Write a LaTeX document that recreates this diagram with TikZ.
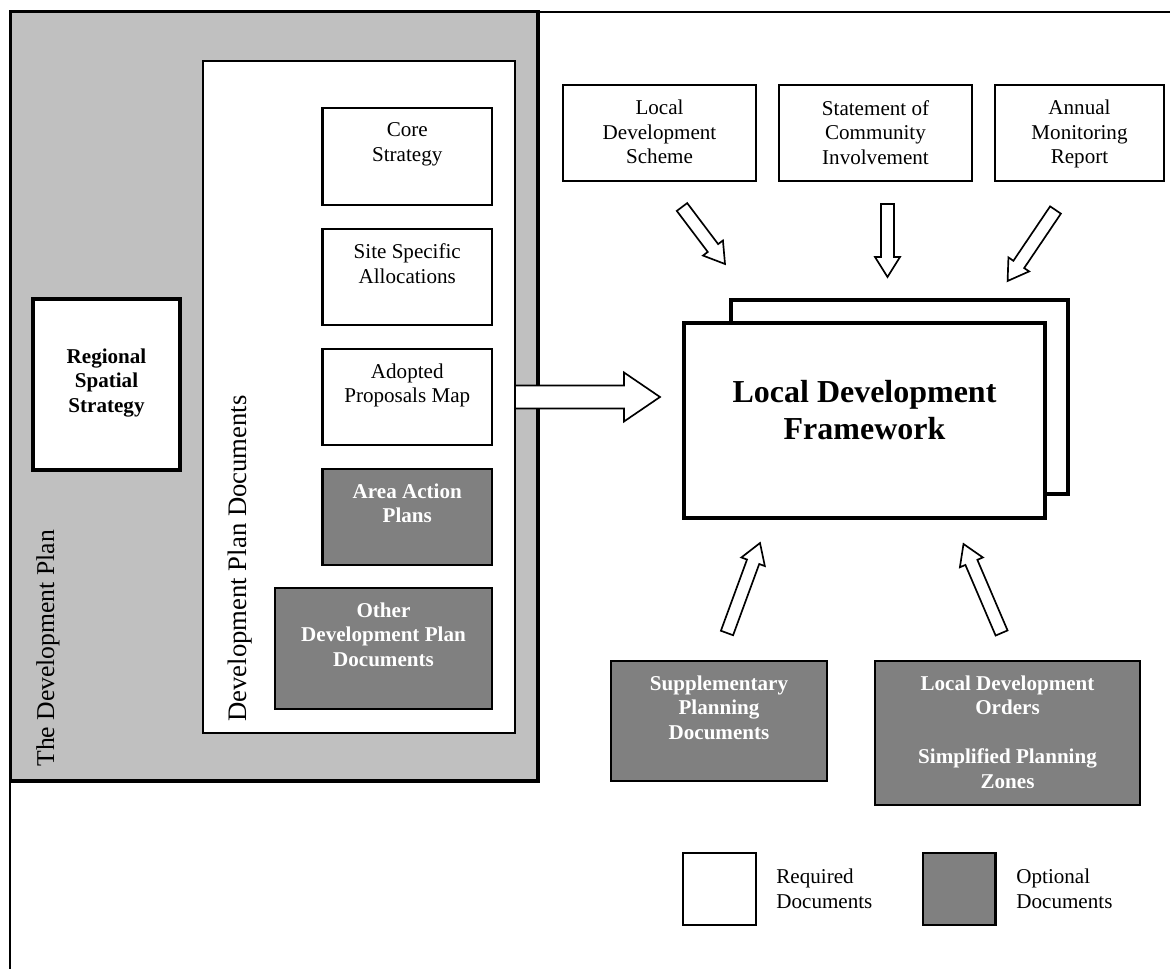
\documentclass[tikz,border=0pt]{standalone}
\usepackage{fontspec}
\setmainfont{Liberation Serif}
\usetikzlibrary{calc,fit}
\definecolor{planGrey}{RGB}{192,192,192}
\definecolor{optGrey}{RGB}{128,128,128}
% hollow block arrow: tail, tip, half shaft width, half head width, head length
\newcommand\hollowarrow[5]{%
  \coordinate (hbase) at ($(#2)!#5!(#1)$);
  \draw[hollow] ($(#1)!#3!90:(#2)$) -- ($(hbase)!#3!-90:(#1)$) -- ($(hbase)!#4!-90:(#1)$) -- (#2)
    -- ($(hbase)!#4!90:(#1)$) -- ($(hbase)!#3!90:(#1)$) -- ($(#1)!#3!-90:(#2)$) -- cycle;}
\begin{document}
\begin{tikzpicture}[x=0.02cm, y=-0.02cm,
  frame/.style={draw=black, line width=1.1pt},
  devplan/.style={draw=black, fill=planGrey, line width=1.8pt, inner sep=0pt},
  dpdbox/.style={draw=black, fill=white, line width=1.1pt, inner sep=0pt},
  reqbox/.style={draw=black, fill=white, line width=1.2pt, inner sep=0pt},
  optbox/.style={draw=black, fill=optGrey, line width=1.2pt, inner sep=0pt},
  heavybox/.style={draw=black, fill=white, line width=2.3pt, inner sep=0pt},
  doctext/.style={align=center, inner sep=0pt, font=\fontsize{12}{13.95}\selectfont},
  boldtext/.style={doctext, font=\bfseries\fontsize{12}{13.95}\selectfont},
  opttext/.style={boldtext, text=white},
  hollow/.style={draw=black, fill=white, line width=0.95pt, line join=miter},
]
\useasboundingbox (0,0) rectangle (1170,969);
\fill[white] (0,0) rectangle (1170,969);

% page frame
\coordinate (fbl) at (10,969);
\coordinate (ftl) at (10,12);
\coordinate (ftr) at (1170,12);
\draw[frame] (fbl) -- (ftl) -- (ftr);

% The Development Plan
\node[devplan, fit={(10.7,11.7) (538,781)}] (devplan) {};
\node[rotate=90, anchor=base west, inner sep=0pt, font=\fontsize{14.6}{17}\selectfont] (devplanlbl) at (54,767) {The Development Plan};

% Regional Spatial Strategy
\node[heavybox, fit={(33,299) (180,470)}] (rss) {};
\node[boldtext] (rsstxt) at (106.5,383) {Regional\\Spatial\\Strategy};

% Development Plan Documents
\node[dpdbox, fit={(203,61) (515,733)}] (dpd) {};
\node[rotate=90, anchor=base west, inner sep=0pt, font=\fontsize{15.2}{18}\selectfont] (dpdlbl) at (246,722) {Development Plan Documents};

\node[reqbox, fit={(322.5,108) (492,205)}] (core) {};
\node[doctext, anchor=north] at ($(core.north)+(0,15.5)$) {Core\\Strategy};
\node[reqbox, fit={(322.5,229) (492,325)}] (ssa) {};
\node[doctext, anchor=north] at ($(ssa.north)+(0,15.5)$) {Site Specific\\Allocations};
\node[reqbox, fit={(322.5,349) (492,445)}] (apm) {};
\node[doctext, anchor=north] at ($(apm.north)+(0,15.5)$) {Adopted\\Proposals Map};
\node[optbox, fit={(322.5,469) (492,565)}] (aap) {};
\node[opttext, anchor=north] at ($(aap.north)+(0,15.5)$) {Area Action\\Plans};
\node[optbox, fit={(275,588) (492,709)}] (odpd) {};
\node[opttext, anchor=north] at ($(odpd.north)+(0,15.5)$) {Other\\Development Plan\\Documents};

% Local Development Framework
\node[heavybox, fit={(731,300) (1068,494)}] (ldfback) {};
\node[heavybox, fit={(684,323) (1045,518)}] (ldf) {};
\node[align=center, inner sep=0pt, font=\bfseries\fontsize{18.2}{21.05}\selectfont] (ldftxt) at (864.5,410.5) {Local Development\\Framework};

% big arrow
\coordinate (bigtail) at (515,397);
\coordinate (bigtip) at (660,397);
\hollowarrow{bigtail}{bigtip}{0.23cm}{0.49cm}{0.72cm}

% top documents
\node[reqbox, fit={(563,85) (756,181)}] (lds) {};
\node[doctext, anchor=north] at ($(lds.north)+(0,16)$) {Local\\Development\\Scheme};
\node[reqbox, fit={(779,85) (972,181)}] (sci) {};
\node[doctext, anchor=north] at ($(sci.north)+(0,16)$) {Statement of\\Community\\Involvement};
\node[reqbox, fit={(995,85) (1164,181)}] (amr) {};
\node[doctext, anchor=north] at ($(amr.north)+(0,16)$) {Annual\\Monitoring\\Report};

\coordinate (a1s) at (682,207);  \coordinate (a1e) at (725,264);
\coordinate (a2s) at (887.5,204); \coordinate (a2e) at (887.5,277);
\coordinate (a3s) at (1055.5,210); \coordinate (a3e) at (1007.6,281);
\hollowarrow{a1s}{a1e}{0.13cm}{0.25cm}{0.4cm}
\hollowarrow{a2s}{a2e}{0.13cm}{0.25cm}{0.4cm}
\hollowarrow{a3s}{a3e}{0.13cm}{0.25cm}{0.4cm}

% bottom documents
\node[optbox, fit={(611,661) (827,781)}] (spd) {};
\node[opttext, anchor=north] at ($(spd.north)+(0,15.5)$) {Supplementary\\Planning\\Documents};
\node[optbox, fit={(875,661) (1140,805)}] (ldo) {};
\node[opttext, anchor=north] at ($(ldo.north)+(0,15.5)$) {Local Development\\Orders\\\mbox{}\\Simplified Planning\\Zones};

\coordinate (a4s) at (727,633);  \coordinate (a4e) at (760,543);
\coordinate (a5s) at (1001.6,633); \coordinate (a5e) at (963.5,544);
\hollowarrow{a4s}{a4e}{0.13cm}{0.25cm}{0.4cm}
\hollowarrow{a5s}{a5e}{0.13cm}{0.25cm}{0.4cm}

% legend
\node[reqbox, fit={(683,853) (756,925)}] (legreq) {};
\node[doctext, anchor=west, align=left] at ($(legreq.east)+(19,0)$) {Required\\Documents};
\node[optbox, fit={(923,853) (995.5,925)}] (legopt) {};
\node[doctext, anchor=west, align=left] at ($(legopt.east)+(19.5,0)$) {Optional\\Documents};
\end{tikzpicture}
\end{document}
